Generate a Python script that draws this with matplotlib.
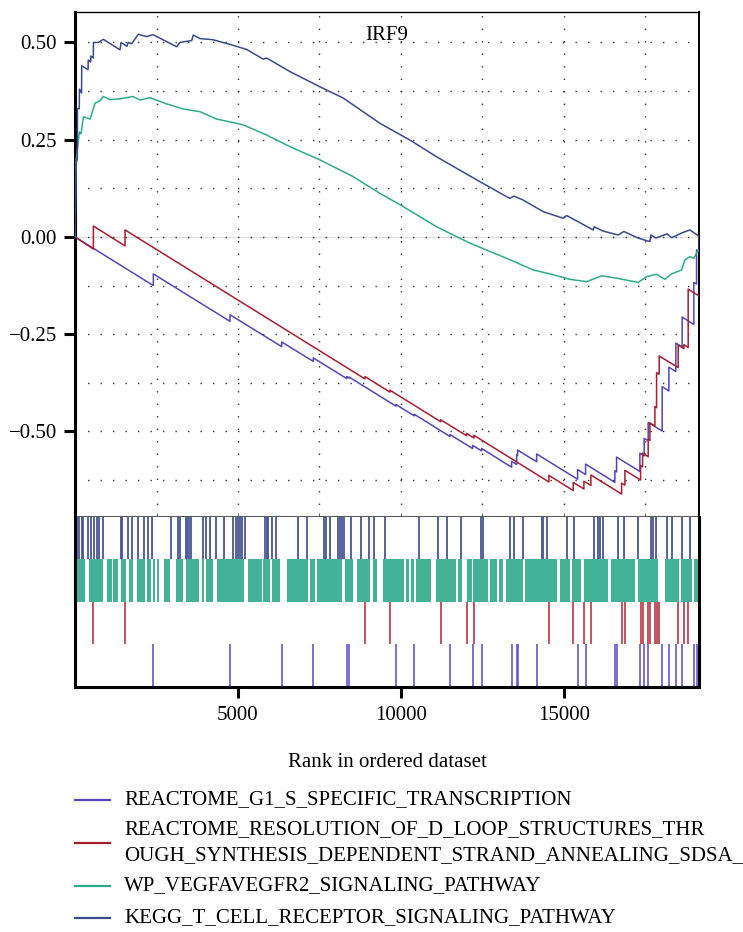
import matplotlib
matplotlib.use("Agg")
import matplotlib.pyplot as plt
from matplotlib.lines import Line2D
from matplotlib.ticker import MultipleLocator, FixedLocator, FuncFormatter

plt.rcParams["font.family"] = ["Liberation Serif", "DejaVu Serif"]

N_GENES = 19150
FS = 15

# gene set names (legend order)
set_names = [
    "REACTOME_G1_S_SPECIFIC_TRANSCRIPTION",
    "REACTOME_RESOLUTION_OF_D_LOOP_STRUCTURES_THR\nOUGH_SYNTHESIS_DEPENDENT_STRAND_ANNEALING_SDSA_",
    "WP_VEGFAVEGFR2_SIGNALING_PATHWAY",
    "KEGG_T_CELL_RECEPTOR_SIGNALING_PATHWAY",
]
line_colors = ["#5446b4", "#a51f30", "#2fab8c", "#3c4a8c"]
rug_colors = ["#6e5fcc", "#b8414e", "#2eaa8b", "#45528f"]

# running enrichment score, (rank, ES) vertices
g1s_rank = [0, 2402, 2402, 4755, 4755, 6340, 6340, 7310, 7310, 8334, 8334, 8405, 8405,
            9847, 9847, 10410, 10410, 11503, 11503, 12199, 12199, 12476, 12476,
            13396, 13396, 13549, 13549, 13580, 13580, 14163, 14163, 15420, 15420,
            15665, 15665, 16564, 16564, 16616, 16616, 17331, 17331, 17463, 17463,
            17586, 17586, 18015, 18015, 18220, 18220, 18435, 18435, 18628, 18628,
            18987, 18987, 19070, 19070, 19150, 19150]
g1s_es = [0.0, -0.125, -0.095, -0.217, -0.200, -0.282, -0.270, -0.320, -0.311, -0.364, -0.359,
          -0.363, -0.360, -0.435, -0.431, -0.460, -0.456, -0.513, -0.508, -0.544, -0.536,
          -0.550, -0.544, -0.592, -0.577, -0.585, -0.560, -0.562, -0.548, -0.578, -0.558,
          -0.623, -0.598, -0.611, -0.584, -0.631, -0.601, -0.604, -0.566, -0.603, -0.556,
          -0.563, -0.518, -0.524, -0.477, -0.499, -0.385, -0.396, -0.335, -0.346, -0.273,
          -0.283, -0.206, -0.225, -0.117, -0.121, -0.033, -0.037, 0.0]

dloop_rank = [0, 562, 562, 1534, 1534, 8896, 8896, 9663, 9663, 11218, 11218, 12015, 12015,
              12239, 12239, 14540, 14540, 15285, 15285, 15614, 15614, 15828, 15828,
              16770, 16770, 16871, 16871, 17353, 17353, 17414, 17414, 17586, 17586,
              17638, 17638, 17791, 17791, 17843, 17843, 17923, 17923, 18506, 18506,
              18681, 18681, 18813, 18813, 19150]
dloop_es = [0.0, -0.031, 0.028, -0.023, 0.018, -0.365, -0.359, -0.399, -0.394, -0.475, -0.470,
            -0.511, -0.505, -0.517, -0.510, -0.630, -0.613, -0.652, -0.631, -0.648, -0.628,
            -0.639, -0.612, -0.661, -0.633, -0.638, -0.600, -0.625, -0.588, -0.591, -0.556,
            -0.565, -0.520, -0.523, -0.478, -0.486, -0.436, -0.439, -0.349, -0.353, -0.306,
            -0.336, -0.278, -0.287, -0.277, -0.284, -0.134, -0.152]

vegf_rank = [0, 25, 132, 184, 255, 460, 614, 767, 868, 1074, 1380, 1770, 1994, 2301, 2813,
             3322, 3834, 4347, 4856, 5163, 5880, 6595, 7515, 8537, 9356, 10071, 11095,
             12117, 13243, 14059, 14571, 15184, 15696, 16156, 16617, 17279, 17537, 17843,
             18098, 18304, 18610, 18712, 18865, 18988, 19120]
vegf_es = [0.0, 0.19, 0.27, 0.265, 0.309, 0.303, 0.344, 0.350, 0.361, 0.353, 0.355, 0.361,
           0.352, 0.358, 0.342, 0.329, 0.322, 0.303, 0.294, 0.288, 0.262, 0.232, 0.198,
           0.155, 0.112, 0.078, 0.026, -0.016, -0.055, -0.085, -0.095, -0.109, -0.115,
           -0.100, -0.106, -0.117, -0.102, -0.096, -0.109, -0.095, -0.085, -0.059, -0.051,
           -0.055, -0.033]

tcr_rank = [0, 30, 70, 75, 130, 135, 200, 205, 400, 405, 480, 485, 560, 565, 715, 868, 1380,
            1411, 1595, 1626, 1739, 1942, 2200, 2393, 2813, 3120, 3221, 3579, 3629, 3834,
            4233, 4755, 5267, 5776, 5880, 5982, 6595, 7515, 8230, 9356, 10276, 11095,
            12423, 13343, 13466, 13743, 14365, 14979, 15083, 15307, 15899, 15930, 16205,
            16665, 16840, 17279, 17638, 17669, 17822, 18168, 18303, 18610, 18865, 19120, 19150]
tcr_es = [0.0, 0.19, 0.20, 0.33, 0.33, 0.38, 0.37, 0.44, 0.43, 0.455, 0.45, 0.465, 0.46, 0.50,
          0.50, 0.508, 0.481, 0.50, 0.49, 0.50, 0.497, 0.521, 0.515, 0.52, 0.502, 0.489, 0.50,
          0.505, 0.519, 0.51, 0.507, 0.495, 0.482, 0.457, 0.460, 0.455, 0.425, 0.386, 0.357,
          0.292, 0.249, 0.206, 0.142, 0.099, 0.105, 0.095, 0.065, 0.048, 0.055, 0.045, 0.018,
          0.026, 0.015, 0.005, 0.014, -0.003, -0.012, 0.005, -0.003, 0.008, -0.002, 0.010,
          0.018, 0.003, 0.0]

# hit positions for the rug plot
g1s_hits = [2402, 4755, 6340, 7310, 8334, 8405, 9847, 10410, 11503, 12199, 12476, 13396,
            13549, 13580, 14163, 15420, 15665, 16564, 16616, 17331, 17463, 17586, 18015,
            18220, 18435, 18628, 18987, 19070]
dloop_hits = [562, 1534, 8896, 9663, 11218, 12015, 12239, 14540, 15285, 15614, 15828, 16770,
              16871, 17353, 17414, 17586, 17638, 17791, 17843, 17923, 18506, 18681, 18813, 19150]
tcr_hits = [71, 132, 206, 255, 408, 482, 583, 666, 736, 868, 1402, 1451, 1617, 1739, 1933,
            2117, 2230, 2371, 2945, 3150, 3221, 3396, 3445, 3506, 3558, 3917, 4009, 4141,
            4316, 4571, 4856, 4939, 5009, 5061, 5113, 5214, 5828, 5880, 5929, 6052, 6166,
            6850, 7126, 7638, 7690, 7822, 8077, 8129, 8181, 8261, 8466, 8764, 9028, 9172,
            9509, 10552, 11144, 11402, 11840, 12445, 12506, 13343, 13466, 13733, 14316,
            14365, 14488, 15083, 15307, 15930, 16052, 16104, 16205, 16665, 16840, 17279,
            17669, 17721, 17822, 18168, 18303, 18610, 18865]
# the VEGF set is dense: runs of hits as (start, end) ranks
vegf_runs = [(31, 307), (439, 868), (991, 1126), (1156, 1328), (1402, 1564), (1666, 1788),
             (1911, 2147), (2199, 2331), (2383, 2454), (2525, 2586), (2730, 2914),
             (3098, 3322), (3405, 3813), (3886, 3957), (4018, 4242), (4347, 5184),
             (5316, 5727), (5776, 5982), (6034, 6288), (6494, 7157), (7209, 7362),
             (7433, 8181), (8282, 8537), (8660, 9049), (9150, 9254), (9439, 10092),
             (10153, 10245), (10307, 10399), (10460, 10911), (11064, 11678), (11758, 11862),
             (12015, 12168), (12199, 12669), (12731, 12945), (13006, 13138), (13221, 13752),
             (13804, 14776), (14877, 15184), (15236, 15512), (15623, 16359), (16442, 17178),
             (17279, 17893), (18098, 18537), (18589, 18917), (18988, 19150)]

fig = plt.figure(figsize=(7.43, 9.32), dpi=100)
ax = fig.add_axes([0.101, 0.4453, 0.840, 0.5417])
rug = fig.add_axes([0.101, 0.2629, 0.840, 0.1824], sharex=ax)

curves = [(g1s_rank, g1s_es), (dloop_rank, dloop_es), (vegf_rank, vegf_es), (tcr_rank, tcr_es)]
for (xs, ys), c in zip(curves, line_colors):
    ax.plot(xs, ys, color=c, lw=1.1, zorder=3)

ax.axhline(0, color="#dedede", lw=1.0, zorder=1)
ax.set_xlim(0, N_GENES)
ax.set_ylim(-0.72, 0.578)
ax.yaxis.set_major_locator(FixedLocator([-0.5, -0.25, 0.0, 0.25, 0.5]))
ax.yaxis.set_minor_locator(MultipleLocator(0.125))
ax.xaxis.set_major_locator(FixedLocator([5000, 10000, 15000]))
ax.xaxis.set_minor_locator(MultipleLocator(2500))
ax.grid(True, which="both", color="#333333", lw=1.0, linestyle=(0, (1, 8)), zorder=0)
ax.yaxis.set_major_formatter(FuncFormatter(lambda v, _: f"{v:.2f}".replace("-", "\u2212")))
ax.tick_params(axis="y", which="major", length=8, width=2.2, labelsize=FS, pad=5)
ax.tick_params(axis="y", which="minor", length=0)
ax.tick_params(axis="x", which="both", direction="in", length=3, width=0.8,
               color="#666666", labelbottom=False)
ax.spines["left"].set_linewidth(2.2)
ax.spines["top"].set_linewidth(1.0)
ax.spines["right"].set_linewidth(1.4)
ax.spines["bottom"].set_linewidth(1.5)
ax.spines["bottom"].set_color("#5a5a5a")
ax.text(0.5, 0.972, "IRF9", transform=ax.transAxes, ha="center", va="top", fontsize=FS)

# rug rows, top to bottom: T cell receptor, VEGF, D-loop, G1/S
rug.vlines(tcr_hits, 3, 4, color=rug_colors[3], lw=1.4, alpha=0.9)
rug.broken_barh([(a, b - a) for a, b in vegf_runs], (2, 1), facecolor=rug_colors[2],
                edgecolor="none", alpha=0.9)
rug.vlines(dloop_hits, 1, 2, color=rug_colors[1], lw=1.4, alpha=0.9)
rug.vlines(g1s_hits, 0, 1, color=rug_colors[0], lw=1.4, alpha=0.9)
rug.set_ylim(0, 4)
rug.set_yticks([])
rug.tick_params(axis="x", which="major", length=8, width=2.2, labelsize=FS, pad=6)
rug.tick_params(axis="x", which="minor", length=0)
rug.spines["top"].set_visible(False)
for side in ("left", "bottom", "right"):
    rug.spines[side].set_linewidth(2.2)
rug.set_xlabel("Rank in ordered dataset", fontsize=FS, labelpad=20)

# legend below the plot
legend_y = [800, 843, 886, 918]
for name, c, y in zip(set_names, line_colors, legend_y):
    fy = 1 - y / 932
    fig.add_artist(Line2D([75 / 743, 110 / 743], [fy, fy], color=c, lw=1.6))
    fig.text(124 / 743, fy, name, ha="left", va="center", fontsize=FS, linespacing=1.5)

fig.savefig("out.png", dpi=100)
